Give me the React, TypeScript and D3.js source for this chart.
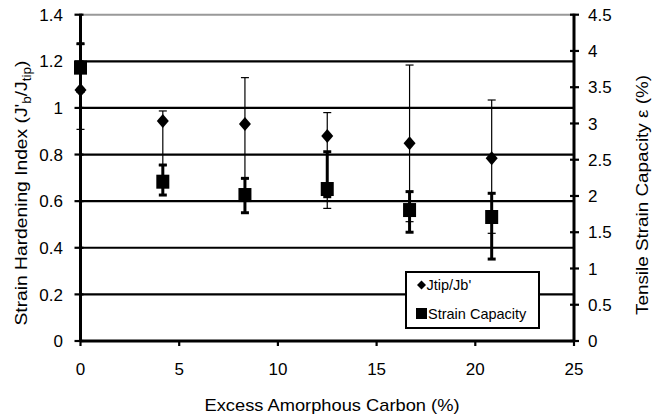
import React from "react";
import * as d3 from "d3";

const xVals = [0, 4.17, 8.33, 12.5, 16.67, 20.83];
const jRatio = [1.077, 0.944, 0.931, 0.88, 0.848, 0.784];
const jRatioHigh = [1.274, 0.987, 1.13, 0.98, 1.184, 1.034];
const jRatioLow = [0.908, 0.755, 0.698, 0.569, 0.512, 0.462];
const strain = [3.77, 2.197, 2.013, 2.096, 1.806, 1.71];
const strainHigh = [4.1, 2.427, 2.243, 2.61, 2.06, 2.037];
const strainLow = [3.44, 2.013, 1.769, 1.99, 1.5, 1.13];
const leftTicks = [0, 0.2, 0.4, 0.6, 0.8, 1, 1.2, 1.4];
const rightTicks = [0, 0.5, 1, 1.5, 2, 2.5, 3, 3.5, 4, 4.5];
const xTicks = [0, 5, 10, 15, 20, 25];

const FONT = "'Liberation Sans', Arial, Helvetica, sans-serif";

export default function App() {
  const x = d3.scaleLinear().domain([0, 25]).range([80.5, 574]);
  const yL = d3.scaleLinear().domain([0, 1.4]).range([341, 14.7]);
  const yR = d3.scaleLinear().domain([0, 4.5]).range([341, 14.7]);
  const fmt = (v: number) => d3.format("")(v);
  const x0 = x(0), x1 = x(25);
  const diamond = (cx: number, cy: number, w: number, h: number) =>
    `M${cx},${cy - h}L${cx + w},${cy}L${cx},${cy + h}L${cx - w},${cy}Z`;

  return (
    <svg width={663} height={416} style={{ position: "absolute", left: 0, top: 0, background: "#fff" }} fontFamily={FONT}>
      {/* gridlines */}
      {leftTicks.filter((t) => t > 0 && t < 1.4).map((t) => (
        <line key={"g" + t} x1={x0} x2={x1} y1={yL(t)} y2={yL(t)} stroke="#000" strokeWidth={2.2} />
      ))}
      <line x1={x0} x2={x1} y1={yL(1.4)} y2={yL(1.4)} stroke="#999" strokeWidth={2} />

      {/* Jtip/Jb' error bars */}
      {xVals.map((xv, i) => (
        <g key={"je" + i} stroke="#000" strokeWidth={1.2}>
          <line x1={x(xv)} x2={x(xv)} y1={yL(jRatioHigh[i])} y2={yL(jRatioLow[i])} />
          <line x1={x(xv) - 4} x2={x(xv) + 4} y1={yL(jRatioHigh[i])} y2={yL(jRatioHigh[i])} />
          <line x1={x(xv) - 4} x2={x(xv) + 4} y1={yL(jRatioLow[i])} y2={yL(jRatioLow[i])} />
        </g>
      ))}
      {xVals.map((xv, i) => (
        <path key={"jd" + i} d={diamond(x(xv), yL(jRatio[i]), 6, 7)} fill="#000" />
      ))}

      {/* Strain capacity error bars */}
      {xVals.map((xv, i) => (
        <g key={"se" + i} stroke="#000">
          <line x1={x(xv)} x2={x(xv)} y1={yR(strainHigh[i])} y2={yR(strainLow[i])} strokeWidth={3} />
          <line x1={x(xv) - 4} x2={x(xv) + 4} y1={yR(strainHigh[i])} y2={yR(strainHigh[i])} strokeWidth={3} />
          <line x1={x(xv) - 4} x2={x(xv) + 4} y1={yR(strainLow[i])} y2={yR(strainLow[i])} strokeWidth={3} />
        </g>
      ))}
      {xVals.map((xv, i) => (
        <rect key={"sq" + i} x={x(xv) - 6.5} y={yR(strain[i]) - 7} width={13} height={14} fill="#000" />
      ))}

      {/* axes */}
      <line x1={x0} x2={x0} y1={yL(1.4) - 1} y2={yL(0) + 1} stroke="#000" strokeWidth={3} />
      <line x1={x1} x2={x1} y1={yR(4.5) - 1} y2={yR(0) + 1} stroke="#000" strokeWidth={3} />
      <line x1={x0} x2={x1} y1={yL(0)} y2={yL(0)} stroke="#000" strokeWidth={3} />
      {leftTicks.map((t) => (
        <g key={"lt" + t}>
          <line x1={x0 - 6} x2={x0 + 3} y1={yL(t)} y2={yL(t)} stroke="#000" strokeWidth={2.2} />
          <text x={63} y={yL(t)} dy="0.36em" textAnchor="end" fontSize={17} fill="#000">{fmt(t)}</text>
        </g>
      ))}
      {rightTicks.map((t) => (
        <g key={"rt" + t}>
          <line x1={x1 - 4} x2={x1 + 5} y1={yR(t)} y2={yR(t)} stroke="#000" strokeWidth={2.2} />
          <text x={588} y={yR(t)} dy="0.36em" textAnchor="start" fontSize={17} fill="#000">{fmt(t)}</text>
        </g>
      ))}
      {xTicks.map((t) => (
        <g key={"xt" + t}>
          <line x1={x(t)} x2={x(t)} y1={yL(0)} y2={yL(0) + 5} stroke="#000" strokeWidth={2.2} />
          <text x={x(t)} y={375} textAnchor="middle" fontSize={17} fill="#000">{t}</text>
        </g>
      ))}

      {/* axis titles */}
      <text x={332} y={411} textAnchor="middle" fontSize={17} fill="#000" textLength={255} lengthAdjust="spacingAndGlyphs">Excess Amorphous Carbon (%)</text>
      <text transform="translate(27,193) rotate(-90)" textAnchor="middle" fontSize={17} fill="#000" textLength={265} lengthAdjust="spacingAndGlyphs">
        Strain Hardening Index (J'<tspan fontSize={12} dy={4}>b</tspan><tspan dy={-4}>/J</tspan><tspan fontSize={12} dy={4}>tip</tspan><tspan dy={-4}>)</tspan>
      </text>
      <text transform="translate(648,195) rotate(-90)" textAnchor="middle" fontSize={17} fill="#000" textLength={240} lengthAdjust="spacingAndGlyphs">Tensile Strain Capacity  ε (%)</text>

      {/* legend */}
      <rect x={406} y={272} width={133} height={56} fill="#fff" stroke="#000" strokeWidth={2} />
      <path d={diamond(421.5, 285, 4.5, 4.5)} fill="#000" />
      <text x={426.5} y={285} dy="0.36em" fontSize={14.5} fill="#000">Jtip/Jb'</text>
      <rect x={416} y={308} width={11} height={11} fill="#000" />
      <text x={428} y={313.5} dy="0.36em" fontSize={14.5} fill="#000">Strain Capacity</text>
    </svg>
  );
}
